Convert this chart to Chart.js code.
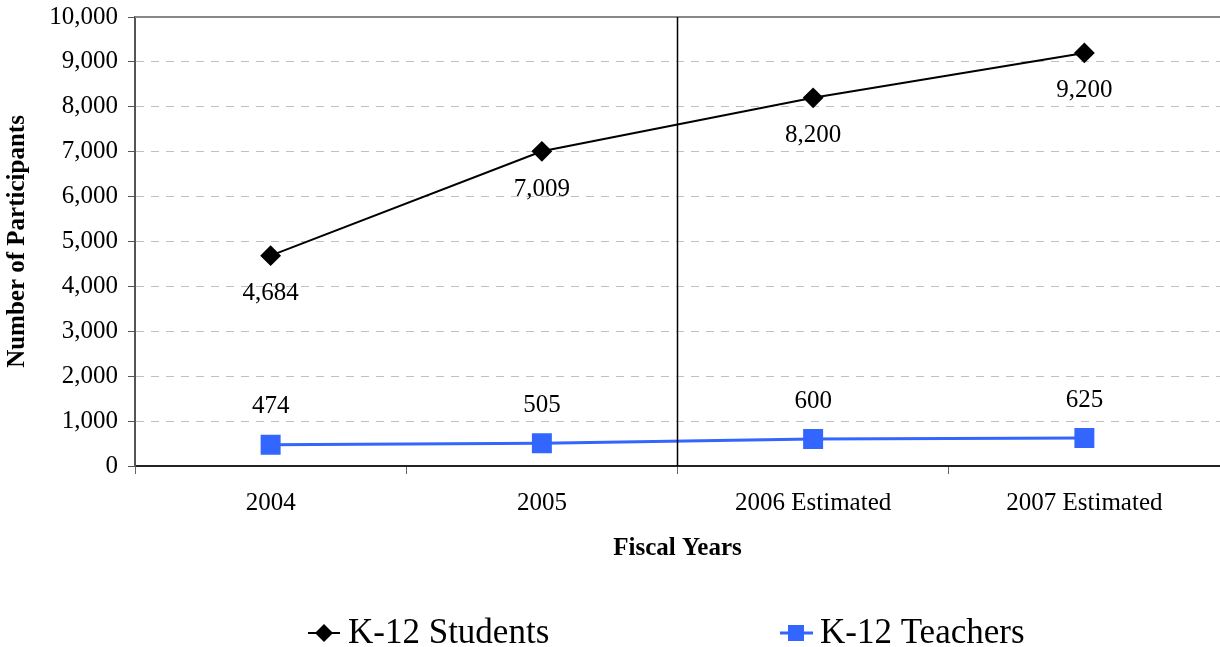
<!DOCTYPE html>
<html lang="en">
<head>
  <meta charset="UTF-8" />
  <title>K-12 Participants</title>
  <script src="https://cdn.jsdelivr.net/npm/chart.js"></script>
  <style>
    html, body { margin: 0; padding: 0; background: #fff; }
    #wrap { width: 1220px; height: 647px; }
  </style>
</head>
<body>
  <div id="wrap"><canvas id="chart" width="1220" height="647"></canvas></div>
  <script>
    const years = ['2004', '2005', '2006 Estimated', '2007 Estimated'];
    const students = [4684, 7009, 8200, 9200];
    const teachers = [474, 505, 600, 625];
    const yTicks = [0, 1000, 2000, 3000, 4000, 5000, 6000, 7000, 8000, 9000, 10000];

    const SERIF = '"Liberation Serif", "Times New Roman", serif';
    const BLUE = '#3366FF';

    // value labels, extra frame lines and the legend
    const extras = {
      id: 'extras',
      afterDatasetsDraw(chart) {
        const ctx = chart.ctx;
        const area = chart.chartArea;
        const xs = chart.scales.x;
        ctx.save();
        // top border
        ctx.strokeStyle = '#888';
        ctx.lineWidth = 2;
        ctx.beginPath();
        ctx.moveTo(area.left, area.top);
        ctx.lineTo(area.right, area.top);
        ctx.stroke();
        // separator between actual and estimated years
        const sepX = (xs.getPixelForValue(1) + xs.getPixelForValue(2)) / 2;
        ctx.strokeStyle = '#000';
        ctx.lineWidth = 1.5;
        ctx.beginPath();
        ctx.moveTo(sepX, area.top);
        ctx.lineTo(sepX, area.bottom);
        ctx.stroke();

        ctx.font = '25px ' + SERIF;
        ctx.fillStyle = '#000';
        ctx.textAlign = 'center';
        ctx.textBaseline = 'middle';
        chart.getDatasetMeta(0).data.forEach((p, i) => {
          ctx.fillText(students[i].toLocaleString('en-US'), p.x, p.y + 38);
        });
        chart.getDatasetMeta(1).data.forEach((p, i) => {
          ctx.fillText(teachers[i].toLocaleString('en-US'), p.x, p.y - 38);
        });

        // legend
        const ly = 633;
        ctx.font = '35px ' + SERIF;
        ctx.textAlign = 'left';
        ctx.strokeStyle = '#000';
        ctx.lineWidth = 2;
        ctx.beginPath();
        ctx.moveTo(308, ly); ctx.lineTo(340, ly);
        ctx.stroke();
        ctx.beginPath();
        ctx.moveTo(324 - 9, ly); ctx.lineTo(324, ly - 9); ctx.lineTo(324 + 9, ly); ctx.lineTo(324, ly + 9);
        ctx.closePath();
        ctx.fill();
        ctx.fillText('K-12 Students', 348, ly + 1);

        ctx.strokeStyle = BLUE;
        ctx.fillStyle = BLUE;
        ctx.lineWidth = 3;
        ctx.beginPath();
        ctx.moveTo(780, ly); ctx.lineTo(813, ly);
        ctx.stroke();
        ctx.fillRect(796 - 8, ly - 8, 16, 16);
        ctx.fillStyle = '#000';
        ctx.fillText('K-12 Teachers', 820, ly + 1);
        ctx.restore();
      }
    };

    new Chart(document.getElementById('chart'), {
      type: 'line',
      data: {
        labels: years,
        datasets: [{
          label: 'K-12 Students',
          data: students,
          borderColor: '#000',
          backgroundColor: '#000',
          borderWidth: 2,
          pointStyle: 'rectRot',
          pointRadius: 9,
          pointHoverRadius: 9,
          tension: 0
        }, {
          label: 'K-12 Teachers',
          data: teachers,
          borderColor: BLUE,
          backgroundColor: BLUE,
          borderWidth: 3,
          pointStyle: 'rect',
          pointRadius: 12,
          pointHoverRadius: 12,
          tension: 0
        }]
      },
      options: {
        responsive: false,
        animation: false,
        layout: { autoPadding: false, padding: { top: 17, right: 0, bottom: 81, left: 0 } },
        plugins: {
          legend: { display: false },
          tooltip: { enabled: false }
        },
        scales: {
          x: {
            offset: true,
            grid: {
              offset: true,
              drawOnChartArea: false,
              drawTicks: true,
              tickLength: 8,
              color: '#666'
            },
            border: { color: '#222', width: 2 },
            ticks: {
              color: '#000',
              padding: 14,
              maxRotation: 0,
              font: { family: SERIF, size: 25 }
            },
            title: {
              display: true,
              text: 'Fiscal Years',
              color: '#000',
              font: { family: SERIF, size: 25, weight: 'bold' },
              padding: { top: 0, bottom: 2 }
            },
            afterFit(scale) {
              scale.height = 100;
              scale.paddingLeft = 0;
              scale.paddingRight = 0;
            }
          },
          y: {
            min: 0,
            max: 10000,
            afterBuildTicks(scale) { scale.ticks = yTicks.map(v => ({ value: v })); },
            grid: {
              color: (c) => c.tick && (c.tick.value === 0 || c.tick.value === 10000) ? 'rgba(0,0,0,0)' : '#c0c0c0',
              tickColor: '#555',
              tickLength: 7,
              drawTicks: true
            },
            border: { color: '#555', width: 2, dash: [8, 7] },
            ticks: {
              color: '#000',
              padding: 10,
              font: { family: SERIF, size: 25 },
              callback: (v) => Number(v).toLocaleString('en-US')
            },
            title: {
              display: true,
              text: 'Number of Participants',
              color: '#000',
              font: { family: SERIF, size: 25, weight: 'bold' },
              padding: { top: 3, bottom: 0 }
            },
            afterFit(scale) {
              scale.width = 135;
              scale.paddingTop = 0;
              scale.paddingBottom = 0;
            }
          }
        }
      },
      plugins: [extras]
    });
  </script>
</body>
</html>
